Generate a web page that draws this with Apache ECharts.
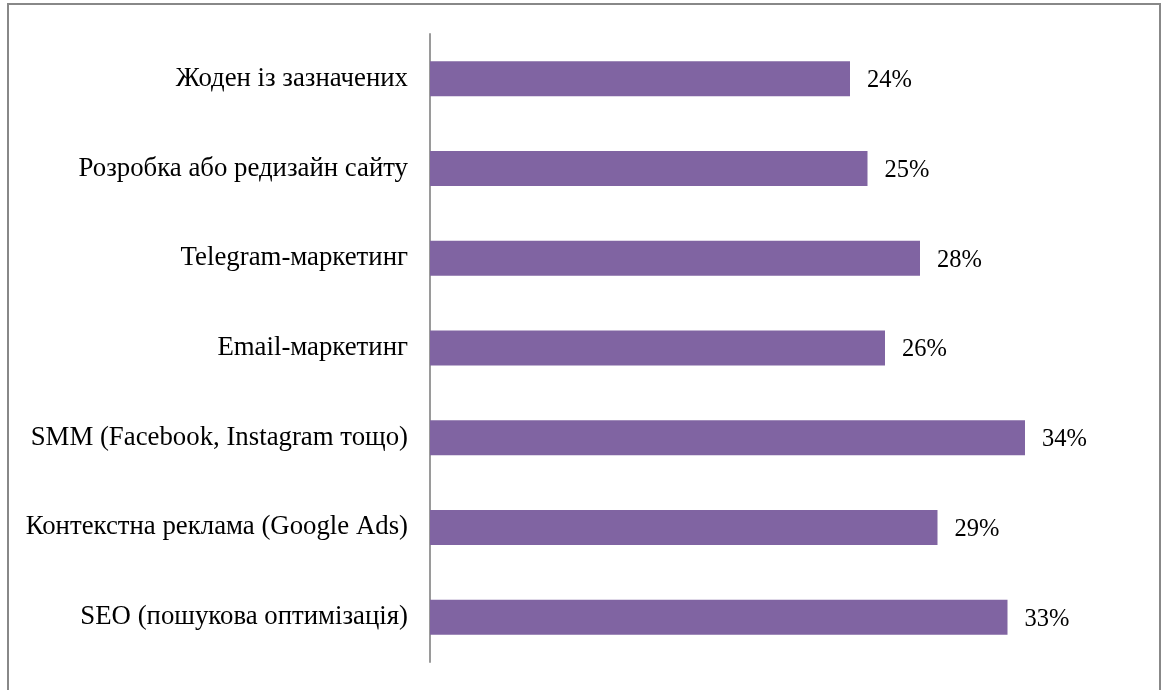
<!DOCTYPE html>
<html>
<head>
<meta charset="utf-8">
<script src="https://cdn.jsdelivr.net/npm/echarts@6/dist/echarts.min.js"></script>
<style>
html,body{margin:0;padding:0;background:#fff;}
#chart{width:1166px;height:690px;}
</style>
</head>
<body>
<div id="chart"></div>
<script>
const categories = [
  'SEO (пошукова оптимізація)',
  'Контекстна реклама (Google Ads)',
  'SMM (Facebook, Instagram тощо)',
  'Email-маркетинг',
  'Telegram-маркетинг',
  'Розробка або редизайн сайту',
  'Жоден із зазначених'
];
const values = [33, 29, 34, 26, 28, 25, 24];

const chart = echarts.init(document.getElementById('chart'));
const font = '"Liberation Serif", "Times New Roman", serif';
chart.setOption({
  animation: false,
  backgroundColor: '#ffffff',
  graphic: [{
    type: 'rect',
    shape: { x: 8, y: 4, width: 1152, height: 700 },
    style: { fill: 'none', stroke: '#888888', lineWidth: 2 },
    silent: true
  }],
  grid: { left: 430, right: 36, top: 34, bottom: 28, containLabel: false },
  xAxis: {
    type: 'value', min: 0, max: 40,
    show: false
  },
  yAxis: {
    type: 'category',
    data: categories,
    axisLine: { show: true, lineStyle: { color: '#9a9a9a', width: 2 } },
    axisTick: { show: false },
    axisLabel: { color: '#000', fontFamily: font, fontSize: 26.8, margin: 22, padding: [4, 0, 0, 0] }
  },
  series: [{
    type: 'bar',
    data: values,
    barWidth: 35,
    itemStyle: { color: '#8064A2' },
    label: {
      show: true, position: 'right', distance: 17, offset: [0, 2],
      formatter: '{c}%', color: '#000', fontFamily: font, fontSize: 24.5
    }
  }]
});
</script>
</body>
</html>
